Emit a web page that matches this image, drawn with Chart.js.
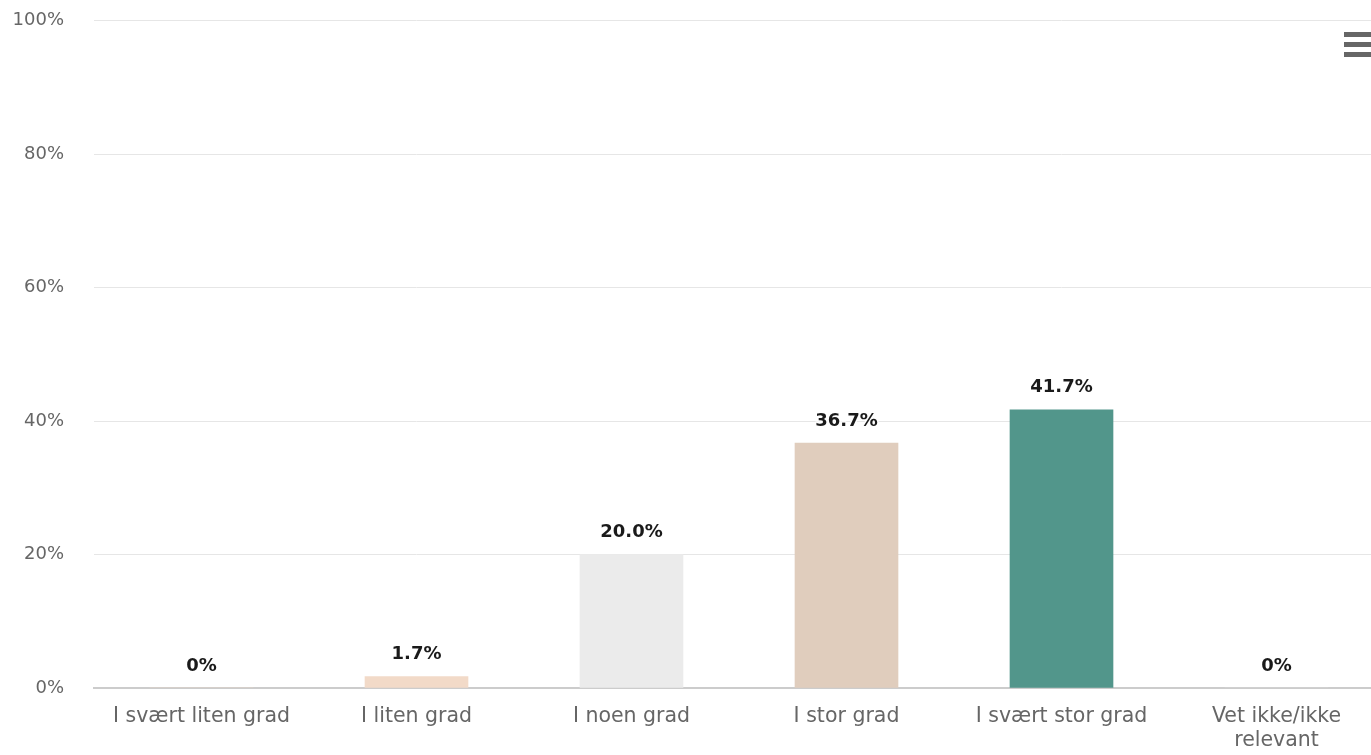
<!DOCTYPE html>
<html lang="no">
<head>
    <meta charset="UTF-8">
    <title>Grad</title>
    <script src="https://cdn.jsdelivr.net/npm/chart.js"></script>
    <style>
        html, body { margin: 0; padding: 0; background: #fff; overflow: hidden; }
        /* the layout keeps ~41px above the plot, so pull the canvas up a bit */
        #wrap { width: 1384px; height: 775px; margin-top: -20px; position: relative; }
    </style>
</head>
<body>
    <div id="wrap"><canvas id="chart"></canvas></div>
    <script>
        const categories = ['I svært liten grad', 'I liten grad', 'I noen grad', 'I stor grad', 'I svært stor grad', ['Vet ikke/ikke', 'relevant']];
        const values = [0, 1.7, 20.0, 36.7, 41.7, 0];
        const valueLabels = ['0%', '1.7%', '20.0%', '36.7%', '41.7%', '0%'];
        const barColors = ['#f0d6c4', '#f2dac8', '#ebebeb', '#e0cdbd', '#52968b', '#d9d9d9'];
        const yTicks = [0, 20, 40, 60, 80, 100];

        const FONT = '"DejaVu Sans", Verdana, sans-serif';

        // value text above each bar
        const barLabels = {
            id: 'barLabels',
            afterDatasetsDraw(chart) {
                const ctx = chart.ctx;
                const meta = chart.getDatasetMeta(0);
                ctx.save();
                ctx.font = 'bold 18px ' + FONT;
                ctx.textAlign = 'center';
                ctx.textBaseline = 'middle';
                ctx.lineJoin = 'round';
                meta.data.forEach((bar, i) => {
                    const y = bar.y - 22;
                    ctx.strokeStyle = '#fff';
                    ctx.lineWidth = 3;
                    ctx.strokeText(valueLabels[i], bar.x, y);
                    ctx.fillStyle = '#1a1a1a';
                    ctx.fillText(valueLabels[i], bar.x, y);
                });
                ctx.restore();
            }
        };

        // menu button in the top right corner
        const menuIcon = {
            id: 'menuIcon',
            afterDraw(chart) {
                const ctx = chart.ctx;
                ctx.save();
                ctx.fillStyle = '#666';
                [52, 62, 72].forEach(y => ctx.fillRect(1344, y, 30, 5));
                ctx.restore();
            }
        };

        new Chart(document.getElementById('chart'), {
            type: 'bar',
            data: {
                labels: categories,
                datasets: [{
                    data: values,
                    backgroundColor: barColors,
                    borderWidth: 0,
                    barThickness: 103
                }]
            },
            options: {
                responsive: true,
                maintainAspectRatio: false,
                animation: false,
                plugins: {
                    legend: { display: false },
                    tooltip: { enabled: false }
                },
                scales: {
                    x: {
                        grid: { display: false, drawTicks: false },
                        border: { color: '#cccccc', width: 2 },
                        ticks: {
                            color: '#666',
                            font: { family: FONT, size: 20.5, lineHeight: 1.17 },
                            padding: 17,
                            maxRotation: 0,
                            autoSkip: false
                        },
                        afterFit(scale) { scale.height = 67; }
                    },
                    y: {
                        min: 0,
                        max: 100,
                        afterBuildTicks(scale) { scale.ticks = yTicks.map(v => ({ value: v })); },
                        grid: { color: '#e6e6e6', drawTicks: false },
                        border: { display: false },
                        ticks: {
                            color: '#666',
                            font: { family: FONT, size: 18 },
                            padding: 30,
                            callback: v => v + '%'
                        },
                        afterFit(scale) { scale.width = 94; }
                    }
                }
            },
            plugins: [barLabels, menuIcon]
        });
    </script>
</body>
</html>
